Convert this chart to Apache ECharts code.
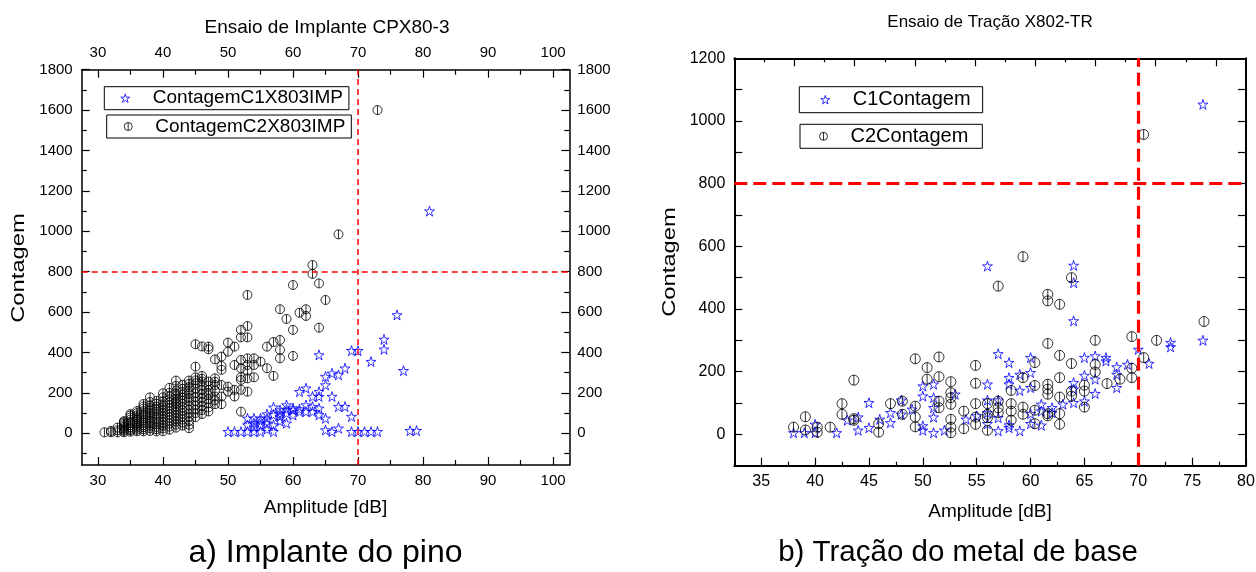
<!DOCTYPE html>
<html><head><meta charset="utf-8">
<script src="https://cdn.jsdelivr.net/npm/echarts@6/dist/echarts.min.js"></script>
<style>html,body{margin:0;padding:0;background:#fff}#c{width:1256px;height:572px}</style>
</head><body><div id="c"></div>
<script>
// ---------- data ----------
const leftC1Name = 'ContagemC1X803IMP';
const leftC2Name = 'ContagemC2X803IMP';
const rightC1Name = 'C1Contagem';
const rightC2Name = 'C2Contagem';

const leftC1 = [
[50,8],[51,8],[52,8],[53,8],[53,41],[53,74],
[54,8],[54,30],[54,50],[54,74],
[55,8],[55,41],[55,60],[55,74],
[56,20],[56,50],[56,74],[56,95],
[57,8],[57,41],[57,91],[57,129],
[58,60],[58,83],[58,99],[58,115],
[59,50],[59,99],[59,118],[59,140],
[60,90],[60,115],[60,125],
[61,107],[61,120],[61,206],
[62,107],[62,140],[62,223],
[63,107],[63,132],[63,182],
[64,91],[64,124],[64,182],[64,206],[64,388],
[65,16],[65,74],[65,239],[65,281],
[66,8],[66,182],[66,297],
[67,25],[67,132],[67,289],
[68,132],[68,322],
[69,8],[69,83],[69,409],
[70,8],[70,409],
[71,8],[72,8],[72,355],[73,8],
[74,416],[74,465],[76,586],[77,310],[78,13],[79,13],[81,1100]
];

const leftC2 = [
[31,5],[32,5],[32,12],[33,5],[33,15],[33,28],[34,5],[34,18],[34,32],[34,48],[34,60],
[35,8],[35,22],[35,40],[35,58],[35,78],[35,95],
[36,10],[36,28],[36,48],[36,68],[36,88],[36,110],
[37,10],[37,30],[37,52],[37,75],[37,98],[37,122],[37,145],
[38,12],[38,38],[38,62],[38,88],[38,112],[38,138],[38,178],
[39,10],[39,32],[39,58],[39,82],[39,108],[39,132],[39,160],
[40,10],[40,38],[40,68],[40,98],[40,128],[40,158],[40,198],
[41,18],[41,48],[41,78],[41,108],[41,138],[41,168],[41,200],[41,225],
[42,28],[42,58],[42,88],[42,118],[42,148],[42,157],[42,185],[42,210],[42,261],
[43,38],[43,68],[43,98],[43,128],[43,160],[43,190],[43,220],
[44,25],[44,60],[44,98],[44,138],[44,175],[44,210],[44,228],[44,261],
[45,80],[45,118],[45,158],[45,198],[45,248],[45,277],[45,330],[45,441],
[46,95],[46,135],[46,175],[46,215],[46,256],[46,284],[46,430],
[47,108],[47,148],[47,188],[47,215],[47,256],[47,416],[47,429],
[48,144],[48,182],[48,239],[48,272],[48,366],
[49,144],[49,182],[49,239],[49,314],[49,333],[49,380],
[50,206],[50,231],[50,404],[50,449],
[51,182],[51,215],[51,338],[51,429],
[52,107],[52,215],[52,264],[52,277],[52,322],[52,363],[52,475],[52,512],
[53,206],[53,272],[53,310],[53,338],[53,371],[53,475],[53,531],[53,685],
[54,277],[54,338],[54,371],
[55,355],[56,322],[56,429],[57,284],[57,452],
[58,371],[58,413],[58,462],[58,614],[59,566],
[60,383],[60,512],[60,734],[61,597],[62,581],[62,614],
[63,789],[63,833],[64,523],[64,742],[65,660],[67,985],[73,1600]
];

// extra overlapping points of the dense low-amplitude cloud
const leftC2Dense = [
[34,12],[34,25],[34,40],[34,55],
[35,15],[35,30],[35,50],[35,68],[35,88],
[36,18],[36,38],[36,58],[36,78],[36,100],
[37,20],[37,40],[37,63],[37,87],[37,110],[37,133],
[38,25],[38,50],[38,75],[38,100],[38,125],[38,155],
[39,20],[39,45],[39,70],[39,95],[39,120],[39,146],
[40,24],[40,53],[40,83],[40,113],[40,143],[40,178],
[41,33],[41,63],[41,93],[41,123],[41,153],[41,184],
[42,43],[42,73],[42,103],[42,133],[42,170],[42,197],[42,235],
[43,53],[43,83],[43,113],[43,145],[43,175],[43,205],[43,240],
[44,42],[44,80],[44,118],[44,158],[44,195],[44,245],
[45,100],[45,138],[45,178],[45,222],[45,262],
[46,115],[46,155],[46,195],[46,236],[46,270],
[47,128],[47,168],[47,200],[47,236],
[48,163],[48,210],[48,255]
];

const rightC1 = [
[38,5],[39,5],[40,5],[40,32],[42,5],[43,45],[44,13],[44,55],[45,21],[45,101],[46,48],[47,37],[47,69],[48,64],[48,109],[49,80],
[50,13],[50,27],[50,122],[50,154],[51,5],[51,55],[51,85],[51,117],[51,160],[52,13],[53,128],[54,48],[55,59],
[56,34],[56,69],[56,109],[56,160],[56,537],
[57,11],[57,53],[57,109],[57,257],
[58,21],[58,30],[58,160],[58,181],[58,229],
[59,11],[59,140],[59,191],
[60,34],[60,66],[60,149],[60,197],[60,245],
[61,29],[61,74],[61,96],[62,69],[62,85],[63,96],
[64,101],[64,144],[64,165],[64,362],[64,484],[64,539],
[65,106],[65,188],[65,245],[66,130],[66,176],[66,250],[67,234],[67,245],
[68,149],[68,191],[68,215],[69,223],[70,271],[71,226],[73,279],[73,293],[76,300],[76,1053]
];

const rightC2 = [
[38.0,23],[39.1,14],[39.1,56],[40.2,7],[40.2,23],[41.4,23],[42.5,64],[42.5,98],[43.6,45],[43.6,50],[43.6,173],
[45.9,7],[45.9,34],[47.0,98],[48.1,64],[48.1,106],
[49.3,24],[49.3,55],[49.3,90],[49.3,241],[50.4,176],[50.4,213],
[51.5,85],[51.5,106],[51.5,184],[51.5,247],
[52.6,5],[52.6,23],[52.6,48],[52.6,96],[52.6,117],[52.6,133],[52.6,168],
[53.8,18],[53.8,74],[54.9,32],[54.9,55],[54.9,98],[54.9,163],[54.9,220],
[56.0,13],[56.0,53],[56.0,64],[56.0,98],
[57.0,69],[57.0,85],[57.0,106],[57.0,473],
[58.2,45],[58.2,74],[58.2,98],[58.2,140],
[59.3,64],[59.3,87],[59.3,181],[59.3,567],
[60.4,34],[60.4,77],[60.4,156],[60.4,229],
[61.6,59],[61.6,66],[61.6,128],[61.6,144],[61.6,160],[61.6,290],[61.6,426],[61.6,447],
[62.7,32],[62.7,66],[62.7,119],[62.7,181],[62.7,252],[62.7,415],
[63.8,122],[63.8,138],[63.8,226],[63.8,500],
[65.0,87],[65.0,138],[65.0,157],
[66.0,199],[66.0,223],[66.0,300],[67.1,162],[68.3,176],
[69.4,181],[69.4,211],[69.4,312],[70.5,245],[70.5,957],[71.7,300],[76.1,360]
];

// reference lines
const leftRefX = 70, leftRefY = 800;
const rightRefX = 70, rightRefY = 800;

// ticks / tick labels
const leftXMajor = [30,40,50,60,70,80,90,100];
const leftXMinor = [35,45,55,65,75,85,95];
const leftYMajor = [0,200,400,600,800,1000,1200,1400,1600,1800];
const leftYMinor = [-100,100,300,500,700,900,1100,1300,1500,1700];
const rightXMajor = [35,40,45,50,55,60,65,70,75,80];
const rightXMinor = [37.5,42.5,47.5,52.5,57.5,62.5,67.5,72.5,77.5];
const rightTopMajor = [1,2,3,4,5,6,7,8];
const rightTopMinor = [0.5,1.5,2.5,3.5,4.5,5.5,6.5,7.5];
const rightYTicks = [0,100,200,300,400,500,600,700,800,900,1000,1100];
const rightYLabels = [0,200,400,600,800,1000,1200];

// texts
const leftTitle = 'Ensaio de Implante CPX80-3';
const rightTitle = 'Ensaio de Tração X802-TR';
const yName = 'Contagem';
const xName = 'Amplitude [dB]';
const leftCaption = 'a) Implante do pino';
const rightCaption = 'b) Tração do metal de base';

// ---------- styling ----------
const FONT = "'Liberation Sans', Arial, Helvetica, sans-serif";
const STAR = 'path://M0,-100 L22,-31 L95,-31 L36,12 L59,81 L0,38 L-59,81 L-36,12 L-95,-31 L-22,-31 Z';
const PHI = 'path://M0,-100 A100,100 0 1,1 0,100 A100,100 0 1,1 0,-100 Z M0,-100 L0,100';
const RED = '#ff0000';

function ax(o) {
  return {
    type: 'value', gridIndex: o.grid, position: o.pos, min: o.min, max: o.max,
    splitLine: { show: false },
    axisLine: { show: !!o.line, onZero: false, lineStyle: { color: '#000', width: o.lw || 1.5 } },
    axisTick: { show: !!o.ticks, inside: true, length: o.len || 7, customValues: o.ticks || [],
                lineStyle: { color: '#000', width: o.tw || 1.2 } },
    axisLabel: { show: !!o.labels, customValues: o.labels || [], margin: o.margin || 8,
                 fontSize: o.fs || 15, color: '#000', fontFamily: FONT,
                 formatter: function (v) { return String(v); } },
    axisPointer: { show: false }
  };
}

const xAxes = [
  ax({grid:0,pos:'bottom',min:27.5,max:102.5,line:true,lw:1.5,ticks:leftXMajor,len:8,labels:leftXMajor,margin:8,fs:15}),
  ax({grid:0,pos:'bottom',min:27.5,max:102.5,ticks:leftXMinor,len:5}),
  ax({grid:0,pos:'top',min:27.5,max:102.5,line:true,lw:1.5,ticks:leftXMajor,len:8,labels:leftXMajor,margin:9,fs:15}),
  ax({grid:0,pos:'top',min:27.5,max:102.5,ticks:leftXMinor,len:5}),
  ax({grid:1,pos:'bottom',min:32.5,max:80,line:true,lw:2,ticks:rightXMajor,len:8,labels:rightXMajor,margin:8,fs:16}),
  ax({grid:1,pos:'bottom',min:32.5,max:80,ticks:rightXMinor,len:4}),
  ax({grid:1,pos:'top',min:0,max:8.5,line:true,lw:2,ticks:rightTopMajor,len:8}),
  ax({grid:1,pos:'top',min:0,max:8.5,ticks:rightTopMinor,len:4})
];
const yAxes = [
  ax({grid:0,pos:'left',min:-157,max:1800,line:true,lw:1.5,ticks:leftYMajor,len:8,labels:leftYMajor,margin:9,fs:15}),
  ax({grid:0,pos:'left',min:-157,max:1800,ticks:leftYMinor,len:5}),
  ax({grid:0,pos:'right',min:-157,max:1800,line:true,lw:1.5,ticks:leftYMajor,len:8,labels:leftYMajor,margin:8,fs:15}),
  ax({grid:0,pos:'right',min:-157,max:1800,ticks:leftYMinor,len:5}),
  ax({grid:1,pos:'left',min:-100,max:1200,line:true,lw:2,ticks:rightYTicks,len:8,labels:rightYLabels,margin:9,fs:16}),
  ax({grid:1,pos:'right',min:-100,max:1200,line:true,lw:2,ticks:rightYTicks,len:8})
];

function hollow(color) { return { color: 'rgba(0,0,0,0)', borderColor: color, borderWidth: 1 }; }

function legendBox(name, color, left, top, pad, textPad, fs, iconSize) {
  return {
    data: [name], left: left, top: top, orient: 'horizontal', padding: pad,
    itemWidth: iconSize, itemHeight: iconSize, itemGap: 0,
    borderColor: '#000', borderWidth: 1, borderRadius: 0, backgroundColor: '#fff',
    selectedMode: false,
    itemStyle: { color: 'rgba(0,0,0,0)', borderColor: color, borderWidth: 1 },
    textStyle: { fontSize: fs, color: '#000', fontFamily: FONT, padding: textPad, lineHeight: fs }
  };
}

function refLine(x, y, width, dash) {
  const ls = { color: RED, width: width, type: dash, opacity: 1 };
  return {
    silent: true, symbol: ['none', 'none'], label: { show: false }, animation: false,
    lineStyle: ls,
    emphasis: { disabled: true },
    data: [{ xAxis: x, lineStyle: ls }, { yAxis: y, lineStyle: ls }]
  };
}

function txt(text, x, y, size, rot, stretch) {
  return { type: 'text', x: x, y: y, rotation: rot || 0, scaleX: stretch || 1, silent: true,
    style: { text: text, fill: '#000', font: size + 'px ' + FONT, textAlign: 'center', textVerticalAlign: 'middle' } };
}

const option = {
  animation: false,
  backgroundColor: '#fff',
  grid: [
    { left: 81.7, top: 69.7, width: 487.6, height: 395.3, containLabel: false, outerBoundsMode: 'none' },
    { left: 734.3, top: 58.3, width: 511.7, height: 407.4, containLabel: false, outerBoundsMode: 'none' }
  ],
  xAxis: xAxes,
  yAxis: yAxes,
  legend: [
    legendBox(leftC1Name, '#0000ff', 104.3, 86.7, [2,6,2,16], [0,0,0,18], 19, 9),
    legendBox(leftC2Name, '#000', 106.7, 115, [2,6,2,17], [0,0,0,18], 19, 8),
    legendBox(rightC1Name, '#0000ff', 799.3, 86.7, [3,12,3,21], [0,0,0,18], 20, 9),
    legendBox(rightC2Name, '#000', 800, 124.3, [2,14,2,19], [0,0,0,18], 20, 8)
  ],
  series: [
    { type: 'scatter', name: leftC2Name, xAxisIndex: 0, yAxisIndex: 0, data: leftC2.concat(leftC2Dense),
      symbol: PHI, symbolSize: 9, itemStyle: hollow('#000') },
    { type: 'scatter', name: leftC1Name, xAxisIndex: 0, yAxisIndex: 0, data: leftC1,
      symbol: STAR, symbolSize: 10, itemStyle: hollow('#0000ff'),
      markLine: refLine(leftRefX, leftRefY, 1.5, [6,4]) },
    { type: 'scatter', name: rightC1Name, xAxisIndex: 4, yAxisIndex: 4, data: rightC1,
      symbol: STAR, symbolSize: 10, itemStyle: hollow('#0000ff') },
    { type: 'scatter', name: rightC2Name, xAxisIndex: 4, yAxisIndex: 4, data: rightC2,
      symbol: PHI, symbolSize: 10, itemStyle: hollow('#000'),
      markLine: refLine(rightRefX, rightRefY, 3.2, [13,6]) }
  ],
  graphic: [
    txt(leftTitle, 327, 28, 19),
    txt(rightTitle, 990, 22, 17),
    txt(yName, 19, 268, 19, Math.PI / 2, 1.25),
    txt(yName, 670, 262, 19, Math.PI / 2, 1.25),
    txt(xName, 325.5, 508, 19),
    txt(xName, 990, 512, 19),
    txt(leftCaption, 325.5, 553, 32),
    txt(rightCaption, 958, 553, 29.5)
  ]
};

const chart = echarts.init(document.getElementById('c'), null, { renderer: 'canvas' });
chart.setOption(option);
</script>
</body></html>
